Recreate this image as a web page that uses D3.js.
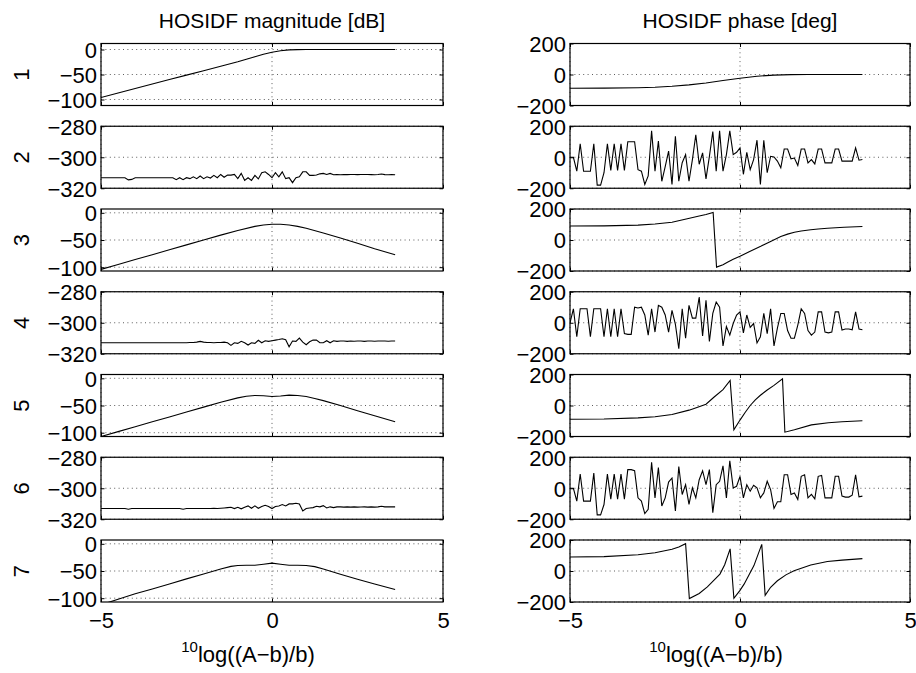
<!DOCTYPE html>
<html><head><meta charset="utf-8">
<script src="https://cdn.jsdelivr.net/npm/d3@7"></script>
<style>
body{margin:0;background:#fff}
svg text{font-family:"Liberation Sans",Arial,Helvetica,sans-serif;fill:#000}
</style>
</head><body><svg id="chart" width="916" height="673"></svg>
<script>
// ---------------- data ----------------
const harmonics = ["1","2","3","4","5","6","7"];
const columnTitles = ["HOSIDF magnitude [dB]", "HOSIDF phase [deg]"];
const xTicks = [-5, 0, 5];
const magOddTicks = [-100, -50, 0];
const magEvenTicks = [-320, -300, -280];
const phaseTicks = [-200, 0, 200];
const magLimits = [[-112,12],[-320,-280],[-107,7],[-320,-280],[-107,7],[-320,-280],[-107,7]];
const phaseLimits = [-200, 200];
const xLimits = [-5, 5];

// sample grid of the noisy (even) harmonics
const xs = [-5,-4.9,-4.8,-4.7,-4.6,-4.5,-4.4,-4.3,-4.2,-4.1,
  -4,-3.9,-3.8,-3.7,-3.6,-3.5,-3.4,-3.3,-3.2,-3.1,
  -3,-2.9,-2.8,-2.7,-2.6,-2.5,-2.4,-2.3,-2.2,-2.1,
  -2,-1.9,-1.8,-1.7,-1.6,-1.5,-1.4,-1.3,-1.2,-1.1,
  -1,-0.9,-0.8,-0.7,-0.6,-0.5,-0.4,-0.3,-0.2,-0.1,
  0,0.1,0.2,0.3,0.4,0.5,0.6,0.7,0.8,0.9,
  1,1.1,1.2,1.3,1.4,1.5,1.6,1.7,1.8,1.9,
  2,2.1,2.2,2.3,2.4,2.5,2.6,2.7,2.8,2.9,
  3,3.1,3.2,3.3,3.4,3.5,3.6];

// magnitude [dB]
const mag1 = [[-5,-96],[-4.5,-87],[-4,-78],[-3.5,-69],[-3,-60],[-2.5,-51.2],[-2,-42.5],[-1.5,-33.5],[-1,-24.5],[-0.75,-19.5],[-0.5,-14.5],[-0.25,-9.5],[0,-5.5],[0.25,-2.5],[0.5,-0.8],[0.75,-0.2],[1,0],[1.5,0],[2,0],[2.5,0],[3,0],[3.6,0]];
const mag2 = [-313.2,-313.2,-313.2,-313.2,-313.2,-313.2,-313.2,-313.2,-314.6,-314.3,
  -313.2,-313.2,-313.2,-313.2,-313.2,-313.2,-313.2,-313.2,-313.2,-313.2,
  -313.2,-313.2,-314.5,-313.2,-314.5,-313.2,-313.8,-312.6,-313.8,-312.1,
  -313.8,-312.6,-313.4,-311.7,-313.2,-311.1,-312.9,-311.5,-311.5,-311.1,
  -313.8,-310.4,-314.9,-313.2,-314.9,-311.7,-314,-310,-309.4,-311.1,
  -313.2,-310,-312.6,-309.4,-313.8,-313.2,-316.4,-313.2,-312.6,-309.4,
  -309.4,-311.7,-311.7,-311.5,-310.7,-310.4,-311.1,-310.4,-311.3,-311.1,
  -311.3,-311.1,-311.2,-311.1,-311.1,-311.2,-311.1,-311.1,-311.1,-311.2,
  -311.3,-311.1,-310.8,-311.2,-311.3,-311.2,-311.3];
const mag3 = [[-5,-104],[-4.5,-95],[-4,-86],[-3.5,-77],[-3,-68],[-2.5,-59],[-2,-50],[-1.5,-41],[-1,-32.5],[-0.5,-25],[-0.25,-22.5],[0,-21],[0.25,-21],[0.5,-22.5],[0.75,-25],[1,-28.5],[1.5,-37],[2,-46.5],[2.5,-56],[3,-66],[3.6,-77]];
const mag4 = [-312.9,-312.9,-312.9,-312.9,-312.9,-312.9,-312.9,-312.9,-312.9,-312.9,
  -312.9,-312.9,-312.9,-312.9,-312.9,-312.9,-312.9,-312.9,-312.9,-312.9,
  -312.9,-312.9,-312.9,-312.9,-312.9,-312.9,-312.7,-312.7,-312.5,-312.0,
  -312.5,-312.7,-312.7,-312.9,-312.7,-312.7,-312.5,-312.9,-314.6,-312.9,
  -313.3,-312.0,-312.9,-314.4,-312.9,-313.3,-311.3,-312.9,-311.6,-312.0,
  -311.6,-311.2,-310.8,-310.3,-311.0,-315.5,-311.8,-312.0,-309.9,-312.5,
  -314.2,-312.3,-311.2,-311.2,-312.9,-312.9,-311.6,-312.9,-311.6,-312.0,
  -311.8,-311.8,-312.0,-311.8,-311.9,-311.8,-311.8,-312.0,-311.8,-311.8,
  -311.9,-311.8,-311.8,-311.8,-311.9,-311.8,-311.8];
const mag5 = [[-5,-107],[-4.5,-98],[-4,-89],[-3.5,-80],[-3,-71],[-2.5,-62],[-2,-53],[-1.5,-44],[-1,-36],[-0.75,-33],[-0.5,-31.5],[-0.25,-32],[0,-33.5],[0.25,-32.5],[0.5,-31],[0.75,-31.5],[1,-33.5],[1.25,-37],[1.5,-41],[2,-50],[2.5,-59.5],[3,-69],[3.6,-80]];
const mag6 = [-313.1,-313.1,-313.1,-313.1,-313.1,-313.1,-313.1,-313.1,-313.5,-313.1,
  -313.1,-313.1,-313.1,-313.1,-313.1,-313.1,-313.1,-313.1,-313.1,-313.1,
  -313.1,-313.1,-313.1,-313.1,-313.5,-313.1,-313.1,-313.1,-313.1,-313.1,
  -313.1,-313.1,-313.1,-312.9,-313.1,-312.9,-312.7,-312.5,-312.3,-313.1,
  -312.3,-313.3,-312.3,-311.4,-312.9,-311.4,-312.9,-311.8,-311.0,-311.8,
  -313.1,-311.8,-311.4,-310.5,-311.4,-310.1,-310.1,-309.7,-310.1,-314.6,
  -313.1,-312.7,-312.5,-311.6,-312.0,-311.2,-312.7,-312.0,-312.5,-312.0,
  -312.0,-312.2,-312.0,-312.2,-312.0,-312.2,-312.1,-312.0,-312.2,-312.0,
  -312.2,-312.0,-311.6,-312.0,-312.0,-312.0,-312.0];
const mag7 = [[-5,-112],[-4.5,-102],[-4,-92],[-3.5,-83],[-3,-74],[-2.5,-64.5],[-2,-55.5],[-1.5,-46.5],[-1.2,-41.5],[-1,-40],[-0.75,-39.5],[-0.5,-39.5],[-0.25,-37.5],[0,-35.5],[0.25,-37.5],[0.5,-39.5],[0.75,-39.5],[1,-40],[1.25,-42],[1.5,-46.5],[2,-56],[2.5,-65],[3,-74],[3.6,-84]];

// phase [deg]
const phase1 = [[-5,-89],[-4,-88],[-3,-85],[-2.5,-82],[-2,-76],[-1.5,-67],[-1,-55],[-0.5,-39],[0,-24],[0.5,-11],[1,-4],[1.5,-1],[2,0],[2.5,0],[3,0],[3.6,0]];
const phase2 = [0,0,-90,87,-90,-90,-90,87,-180,-180,
  -100,87,-85,87,-85,87,-85,100,100,100,
  -80,-90,-175,-120,170,-90,105,-155,-60,40,
  -175,135,-155,-35,17,-155,-15,145,-45,28,
  -140,6,166,-90,170,-90,17,170,17,32,
  60,-110,32,-80,-15,110,-175,110,-100,6,
  2,-25,-68,53,53,-10,-5,-53,53,53,
  -36,-15,-43,53,53,-36,-36,-36,53,53,
  -25,-25,-25,-25,60,-19,-15];
const phase3 = [[-5,90],[-4,91],[-3,96],[-2.5,103],[-2,114],[-1.55,137],[-1.2,155],[-1,165],[-0.79,178],[-0.69,-175],[-0.5,-160],[-0.37,-143],[-0.2,-124],[0,-105],[0.3,-73],[0.61,-41],[0.9,-9],[1.2,22],[1.4,38],[1.6,50],[1.8,58],[2.08,66],[2.3,71],[2.57,76],[3.06,82],[3.6,87]];
const phase4 = [0,90,-90,90,90,90,-90,90,90,90,
  -90,90,-90,90,-90,90,-70,-75,-75,100,
  95,100,50,-80,90,-60,112,100,50,-60,
  80,-10,-168,90,-100,112,30,30,166,-85,
  145,-120,60,134,100,-150,-25,-80,-5,50,
  70,-65,50,-30,-5,-130,-90,60,-70,90,
  -150,-35,60,60,-50,-100,-100,-15,90,60,
  -50,-80,-60,70,70,-60,-65,-60,70,70,
  -47,-40,-40,-45,70,-40,-45];
const phase5 = [[-5,-89],[-4,-87],[-3,-80],[-2.5,-73],[-2,-58],[-1.5,-30],[-1.35,-19],[-1,8],[-0.76,55],[-0.5,102],[-0.29,162],[-0.18,-157],[0,-94],[0.15,-45],[0.3,0],[0.45,36],[0.6,66],[0.8,100],[1,130],[1.25,172],[1.32,-172],[1.6,-157],[2.1,-125],[2.6,-111],[3,-105],[3.6,-98]];
const phase6 = [0,0,-83,92,-83,-83,-83,98,-172,-172,
  -105,92,-70,92,-70,92,-70,120,120,113,
  -62,-83,-164,-136,168,-62,134,-115,-62,40,
  66,-147,140,-40,23,-104,2,-62,55,113,
  23,120,-158,23,45,145,-62,177,2,13,
  77,-62,23,-19,19,2,-62,-30,45,-9,
  -130,-87,-87,87,87,-40,-30,-72,77,87,
  -62,-40,-68,77,83,-62,-62,-62,77,77,
  -51,-57,-57,-45,87,-55,-51];
const phase7 = [[-5,90],[-4,93],[-3,105],[-2.5,118],[-2,140],[-1.8,155],[-1.6,176],[-1.49,-178],[-1.2,-145],[-0.96,-102],[-0.59,-20],[-0.45,40],[-0.29,143],[-0.18,-176],[0,-125],[0.12,-85],[0.41,35],[0.64,172],[0.74,-157],[0.9,-105],[1.1,-63],[1.35,-25],[1.59,2],[2.08,39],[2.57,61],[3,70],[3.6,80]];

// ---------------- drawing ----------------
const toPairs = arr => xs.map((x, i) => [x, arr[i]]);
const magSeries = [mag1, toPairs(mag2), mag3, toPairs(mag4), mag5, toPairs(mag6), mag7];
const phaseSeries = [phase1, toPairs(phase2), phase3, toPairs(phase4), phase5, toPairs(phase6), phase7];

const svg = d3.select("#chart");
const cols = [{x0: 101, x1: 443}, {x0: 570, x1: 910}];
const rowTop0 = 43.5, rowStep = 82.75, rowH = 62;
const tickLen = 3.5;
const FS = 22;

function fmt(v){ return v < 0 ? "\u2212" + Math.abs(v) : String(v); }

function panel(ci, ri, data, yDom, yTicks, showX){
  const c = cols[ci];
  const top = rowTop0 + ri * rowStep, bot = top + rowH;
  const x = d3.scaleLinear().domain(xLimits).range([c.x0, c.x1]);
  const y = d3.scaleLinear().domain(yDom).range([bot, top]);
  const g = svg.append("g");
  const id = "clip" + ci + "_" + ri;
  g.append("clipPath").attr("id", id).append("rect")
    .attr("x", c.x0).attr("y", top).attr("width", c.x1 - c.x0).attr("height", rowH);
  // grid
  g.selectAll(null).data(yTicks).enter().append("line")
    .attr("x1", c.x0).attr("x2", c.x1).attr("y1", d => y(d)).attr("y2", d => y(d))
    .attr("stroke", "#333").attr("stroke-width", 0.8).attr("stroke-dasharray", "1,3.4");
  g.selectAll(null).data(xTicks).enter().append("line")
    .attr("x1", d => x(d)).attr("x2", d => x(d)).attr("y1", top).attr("y2", bot)
    .attr("stroke", "#333").attr("stroke-width", 0.8).attr("stroke-dasharray", "1,3.4");
  // data line
  g.append("path").datum(data)
    .attr("clip-path", "url(#" + id + ")")
    .attr("d", d3.line().x(d => x(d[0])).y(d => y(d[1])))
    .attr("fill", "none").attr("stroke", "#000").attr("stroke-width", 1.1);
  // axes via d3 axis (inward ticks)
  const yl = g.append("g").attr("transform", `translate(${c.x0},0)`)
    .call(d3.axisLeft(y).tickValues(yTicks).tickSize(-tickLen).tickPadding(4).tickFormat(fmt));
  const yr = g.append("g").attr("transform", `translate(${c.x1},0)`)
    .call(d3.axisRight(y).tickValues(yTicks).tickSize(-tickLen).tickFormat(""));
  const xb = g.append("g").attr("transform", `translate(0,${bot})`)
    .call(d3.axisBottom(x).tickValues(xTicks).tickSize(-tickLen).tickPadding(10).tickFormat(showX ? fmt : ""));
  const xt = g.append("g").attr("transform", `translate(0,${top})`)
    .call(d3.axisTop(x).tickValues(xTicks).tickSize(-tickLen).tickFormat(""));
  [yl, yr, xb, xt].forEach(a => {
    a.select(".domain").remove();
    a.selectAll(".tick line").attr("stroke", "#000").attr("stroke-width", 1);
    a.selectAll("text").attr("font-size", FS).attr("font-family", "'Liberation Sans', Arial, sans-serif").attr("fill", "#000");
  });
  yl.selectAll("text").attr("dy", "0.36em");
  xb.selectAll("text").attr("dy", "0.72em");
  // box
  g.append("rect").attr("x", c.x0).attr("y", top).attr("width", c.x1 - c.x0).attr("height", rowH)
    .attr("fill", "none").attr("stroke", "#000").attr("stroke-width", 1.2);
}

harmonics.forEach((h, ri) => {
  const even = ri % 2 === 1;
  panel(0, ri, magSeries[ri], magLimits[ri], even ? magEvenTicks : magOddTicks, ri === 6);
  panel(1, ri, phaseSeries[ri], phaseLimits, phaseTicks, ri === 6);
  const ym = rowTop0 + ri * rowStep + rowH / 2;
  svg.append("text").attr("transform", `translate(29,${ym}) rotate(-90)`)
    .attr("text-anchor", "middle").attr("font-size", FS).text(h);
});

// titles
columnTitles.forEach((t, ci) => {
  svg.append("text").attr("x", (cols[ci].x0 + cols[ci].x1) / 2).attr("y", 27.5)
    .attr("text-anchor", "middle").attr("font-size", 21).text(t);
});

// x labels: superscript 10 + log((A-b)/b)
cols.forEach(c => {
  const mid = (c.x0 + c.x1) / 2;
  const t = svg.append("text").attr("x", mid - 24).attr("y", 662).attr("text-anchor", "middle").attr("font-size", FS);
  t.append("tspan").attr("font-size", 15).attr("dy", -10).text("10");
  t.append("tspan").attr("dy", 10).text("log((A\u2212b)/b)");
});
</script>
</body></html>
